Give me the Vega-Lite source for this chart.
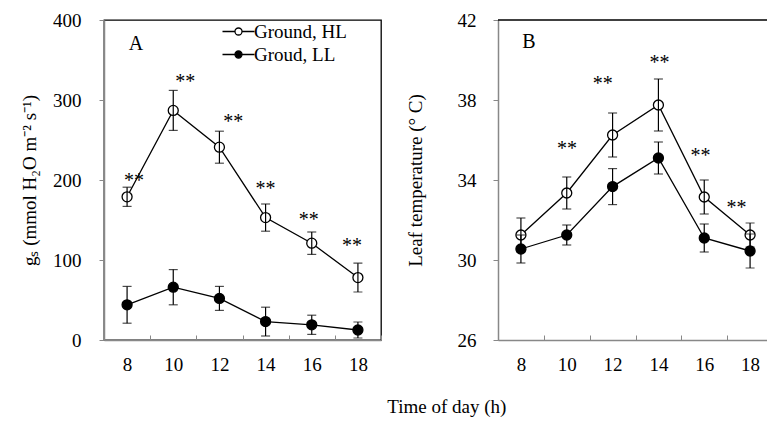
{
  "$schema": "https://vega.github.io/schema/vega-lite/v6.json",
  "background": "white",
  "padding": {"left": 19, "top": 10, "right": 0, "bottom": 5},
  "spacing": 23,
  "title": {"text": "Time of day (h)", "orient": "bottom", "anchor": "middle", "dx": 50, "offset": 23, "font": "Liberation Serif", "fontSize": 19, "fontWeight": "normal", "color": "black"},
  "config": {
    "font": "Liberation Serif",
    "axis": {"labelFont": "Liberation Serif", "labelFontSize": 19, "labelColor": "black", "titleFont": "Liberation Serif", "titleFontSize": 19, "titleFontWeight": "normal", "titleColor": "black", "domainColor": "#888888", "domainWidth": 1.5, "tickColor": "#888888", "tickWidth": 1, "grid": false},
    "legend": {"orient": "none", "legendX": 125, "legendY": 2, "title": null, "symbolType": "M-2,0L-0.44,0M0.44,0L2,0M0.44,0A0.44,0.44,0,1,1,-0.44,0A0.44,0.44,0,1,1,0.44,0Z", "symbolSize": 256, "symbolStrokeColor": "black", "symbolStrokeWidth": 1.3, "symbolOpacity": 1, "labelFont": "Liberation Serif", "labelFontSize": 19, "labelColor": "black", "labelOffset": 6, "rowPadding": 3, "padding": 0}
  },
  "datasets": {
    "gs": [
      {"time": 8, "series": "Ground, HL", "mean": 179, "se": 12},
      {"time": 10, "series": "Ground, HL", "mean": 287, "se": 25},
      {"time": 12, "series": "Ground, HL", "mean": 241, "se": 20},
      {"time": 14, "series": "Ground, HL", "mean": 153, "se": 17},
      {"time": 16, "series": "Ground, HL", "mean": 121, "se": 14},
      {"time": 18, "series": "Ground, HL", "mean": 78, "se": 18},
      {"time": 8, "series": "Groud, LL", "mean": 44, "se": 23},
      {"time": 10, "series": "Groud, LL", "mean": 66, "se": 22},
      {"time": 12, "series": "Groud, LL", "mean": 52, "se": 15},
      {"time": 14, "series": "Groud, LL", "mean": 23, "se": 18},
      {"time": 16, "series": "Groud, LL", "mean": 19, "se": 12},
      {"time": 18, "series": "Groud, LL", "mean": 12.5, "se": 10}
    ],
    "temp": [
      {"time": 8, "series": "Ground, HL", "mean": 31.25, "se": 0.85},
      {"time": 10, "series": "Ground, HL", "mean": 33.35, "se": 0.8},
      {"time": 12, "series": "Ground, HL", "mean": 36.25, "se": 1.1},
      {"time": 14, "series": "Ground, HL", "mean": 37.75, "se": 1.3},
      {"time": 16, "series": "Ground, HL", "mean": 33.15, "se": 0.85},
      {"time": 18, "series": "Ground, HL", "mean": 31.25, "se": 0.6},
      {"time": 8, "series": "Groud, LL", "mean": 30.55, "se": 0.7},
      {"time": 10, "series": "Groud, LL", "mean": 31.25, "se": 0.5},
      {"time": 12, "series": "Groud, LL", "mean": 33.67, "se": 0.9},
      {"time": 14, "series": "Groud, LL", "mean": 35.1, "se": 0.8},
      {"time": 16, "series": "Groud, LL", "mean": 31.1, "se": 0.7},
      {"time": 18, "series": "Groud, LL", "mean": 30.45, "se": 0.85}
    ],
    "stars_gs": [
      {"time": 8, "y": 204, "off": 0.3},
      {"time": 10, "y": 327, "off": 0.52},
      {"time": 12, "y": 277, "off": 0.6},
      {"time": 14, "y": 194, "off": 0},
      {"time": 16, "y": 155, "off": -0.13},
      {"time": 18, "y": 123, "off": -0.26}
    ],
    "stars_t": [
      {"time": 10, "y": 35.75, "off": 0},
      {"time": 12, "y": 39.0, "off": -0.43},
      {"time": 14, "y": 40.05, "off": 0.04},
      {"time": 16, "y": 35.4, "off": -0.17},
      {"time": 18, "y": 32.8, "off": -0.6}
    ]
  },
  "hconcat": [
    {
      "width": 277,
      "height": 320,
      "view": {"stroke": "black", "strokeWidth": 1.3},
      "layer": [
        {
          "data": {"name": "gs"},
          "mark": {"type": "line", "color": "black", "strokeWidth": 1.3},
          "encoding": {
            "x": {"field": "time", "type": "ordinal", "scale": {"type": "band", "domain": [8, 10, 12, 14, 16, 18], "paddingInner": 0, "paddingOuter": 0}, "axis": {"title": null, "tickBand": "extent", "tickSize": -5, "labelPadding": 20, "labelAngle": 0}},
            "y": {"field": "mean", "type": "quantitative", "title": "gₛ (mmol H₂O m⁻² s⁻¹)", "scale": {"domain": [0, 400]}, "axis": {"values": [0, 100, 200, 300, 400], "tickSize": 5, "labelPadding": 18, "titlePadding": 13}},
            "detail": {"field": "series"}
          }
        },
        {
          "data": {"name": "gs"},
          "mark": {"type": "point", "size": 100, "stroke": "black", "strokeWidth": 1.3, "opacity": 1},
          "encoding": {
            "x": {"field": "time", "type": "ordinal"},
            "y": {"field": "mean", "type": "quantitative", "title": "gₛ (mmol H₂O m⁻² s⁻¹)"},
            "fill": {"field": "series", "type": "nominal", "scale": {"domain": ["Ground, HL", "Groud, LL"], "range": ["white", "black"]}}
          }
        },
        {
          "data": {"name": "gs"},
          "mark": {"type": "errorbar", "color": "black", "thickness": 1.2, "ticks": {"size": 9, "color": "black"}},
          "encoding": {
            "x": {"field": "time", "type": "ordinal"},
            "y": {"field": "mean", "type": "quantitative", "title": "gₛ (mmol H₂O m⁻² s⁻¹)"},
            "yError": {"field": "se"}
          }
        },
        {
          "data": {"name": "stars_gs"},
          "mark": {"type": "text", "text": "**", "font": "Liberation Serif", "fontSize": 20, "color": "black", "baseline": "middle", "dy": 4},
          "encoding": {
            "x": {"field": "time", "type": "ordinal"},
            "xOffset": {"field": "off", "type": "quantitative", "scale": {"domain": [-1, 1], "range": [0, 46.2]}},
            "y": {"field": "y", "type": "quantitative", "title": "gₛ (mmol H₂O m⁻² s⁻¹)"}
          }
        },
        {
          "data": {"values": [{"label": "A", "time": 8, "y": 370}]},
          "mark": {"type": "text", "font": "Liberation Serif", "fontSize": 20, "color": "black", "baseline": "middle", "dx": 9},
          "encoding": {
            "x": {"field": "time", "type": "ordinal"},
            "y": {"field": "y", "type": "quantitative", "title": "gₛ (mmol H₂O m⁻² s⁻¹)"},
            "text": {"field": "label"}
          }
        }
      ]
    },
    {
      "width": 275,
      "height": 320,
      "view": {"stroke": null},
      "layer": [
        {
          "data": {"name": "temp"},
          "mark": {"type": "line", "color": "black", "strokeWidth": 1.3},
          "encoding": {
            "x": {"field": "time", "type": "ordinal", "scale": {"type": "band", "domain": [8, 10, 12, 14, 16, 18], "paddingInner": 0, "paddingOuter": 0}, "axis": {"title": null, "tickBand": "extent", "tickSize": -5, "labelPadding": 20, "labelAngle": 0}},
            "y": {"field": "mean", "type": "quantitative", "title": "Leaf temperature (° C)", "scale": {"domain": [26, 42]}, "axis": {"values": [26, 30, 34, 38, 42], "tickSize": 5, "labelPadding": 17, "titlePadding": 32}},
            "detail": {"field": "series"}
          }
        },
        {
          "data": {"values": [{"top": 42}]},
          "mark": {"type": "rule", "color": "black", "strokeWidth": 1.3},
          "encoding": {"y": {"field": "top", "type": "quantitative", "title": "Leaf temperature (° C)"}}
        },
        {
          "data": {"name": "temp"},
          "mark": {"type": "point", "size": 100, "stroke": "black", "strokeWidth": 1.3, "opacity": 1},
          "encoding": {
            "x": {"field": "time", "type": "ordinal"},
            "y": {"field": "mean", "type": "quantitative", "title": "Leaf temperature (° C)"},
            "fill": {"field": "series", "type": "nominal", "scale": {"domain": ["Ground, HL", "Groud, LL"], "range": ["white", "black"]}, "legend": null}
          }
        },
        {
          "data": {"name": "temp"},
          "mark": {"type": "errorbar", "color": "black", "thickness": 1.2, "ticks": {"size": 9, "color": "black"}},
          "encoding": {
            "x": {"field": "time", "type": "ordinal"},
            "y": {"field": "mean", "type": "quantitative", "title": "Leaf temperature (° C)"},
            "yError": {"field": "se"}
          }
        },
        {
          "data": {"name": "stars_t"},
          "mark": {"type": "text", "text": "**", "font": "Liberation Serif", "fontSize": 20, "color": "black", "baseline": "middle", "dy": 4},
          "encoding": {
            "x": {"field": "time", "type": "ordinal"},
            "xOffset": {"field": "off", "type": "quantitative", "scale": {"domain": [-1, 1], "range": [0, 45.8]}},
            "y": {"field": "y", "type": "quantitative", "title": "Leaf temperature (° C)"}
          }
        },
        {
          "data": {"values": [{"label": "B", "time": 8, "y": 40.9}]},
          "mark": {"type": "text", "font": "Liberation Serif", "fontSize": 20, "color": "black", "baseline": "middle", "dx": 8},
          "encoding": {
            "x": {"field": "time", "type": "ordinal"},
            "y": {"field": "y", "type": "quantitative", "title": "Leaf temperature (° C)"},
            "text": {"field": "label"}
          }
        }
      ]
    }
  ],
  "resolve": {"scale": {"fill": "independent"}}
}
